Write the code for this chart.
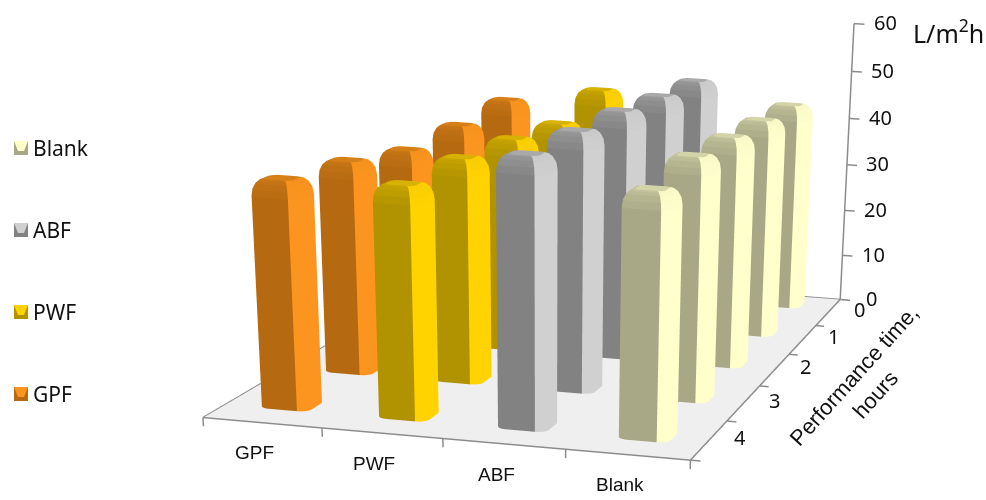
import numpy as np, plotly.graph_objects as go
categories=['GPF','PWF','ABF','Blank']
times=[0,1,2,3,4]
z_ticks=[0,10,20,30,40,50,60]
GPF=[40.6,39.1,38.2,40.4,41.5]
PWF=[44.0,40.8,41.8,42.4,42.1]
ABF=[47.2,47.7,48.6,48.8,48.8]
Blank=[43.4,44.2,45.0,45.7,44.3]
vals={'GPF':GPF,'PWF':PWF,'ABF':ABF,'Blank':Blank}
W,H=1500,2200
CAM=[1.2363,-4.5174,0.7460,0.4366,-0.2311,-1.5305,-0.4845,2.1755,0.7704,1.3011,0.4939]
xr=[-.7,3.7];yr=[-.7,4.7];zr=[-3,63]
p=np.array(CAM)
def barx(ci,t): return ci+(1-t/4)*(.17-.063*ci)
def bary(t): return 4-t+.2-.05*t
colors={'GPF':('#B56A12','#FB951F'),'PWF':('#B19200','#FFD300'),'ABF':('#828282','#D0D0D0'),'Blank':('#A8A886','#FFFFCC')}
def mix(a,b,s):
    A=[int(a[i:i+2],16) for i in (1,3,5)];B=[int(b[i:i+2],16) for i in (1,3,5)]
    return '#%02x%02x%02x'%tuple(int(round(A[k]+(B[k]-A[k])*s)) for k in range(3))
def section(hx,hy,rx,ry,n=6):
    pts=[]
    for cx,cy,a0 in [(hx-rx,-hy+ry,-90),(hx-rx,hy-ry,0),(-hx+rx,hy-ry,90),(-hx+rx,-hy+ry,180)]:
        for k in range(n+1):
            a=np.radians(a0+90*k/n)
            pts.append((cx+rx*np.cos(a),cy+ry*np.sin(a)))
    return pts
HX,HY=.21,.156
SX,SY=120,40
def shade(q0,q1):
    off=((q0[0]+q1[0])/2*SX+(q0[1]+q1[1])/2*SY)
    return float(np.clip(.5+off/7.0,0,1))
def bars(ci,vs,dark,light):
    X=[];Y=[];Z=[];I=[];J=[];K=[];FC=[]
    bh=3.0
    for t,v in zip(times,vs):
        y0=bary(t);x0=barx(ci,t)
        rings=[]
        levels=[(0,0)]+[(v-bh*(1-np.sin(a)),1-np.cos(a)) for a in np.radians([0,25,50,70,90])]
        for z,ins in levels:
            pts=section(HX-.09*ins,HY-.065*ins,.09-.04*ins,.07-.03*ins)
            rings.append(len(X))
            for q in pts:
                X.append(x0+q[0]);Y.append(y0+q[1]);Z.append(z)
        m=len(pts);ns=section(HX,HY,.09,.07)
        for r in range(len(rings)-1):
            lev=r/(len(rings)-2)
            for k in range(m):
                a,b=rings[r]+k,rings[r]+(k+1)%m;c,d=rings[r+1]+k,rings[r+1]+(k+1)%m
                s=shade(ns[k],ns[(k+1)%m])
                tgt=.3*(1-s)+.92*s
                s2=s+(tgt-s)*lev if r>0 else s
                col=mix(dark,light,s2)
                I+=[a,a];J+=[b,d];K+=[d,c];FC+=[col,col]
        top=rings[-1];cidx=len(X);X.append(x0);Y.append(y0);Z.append(v)
        for k in range(m):
            I.append(top+k);J.append(top+(k+1)%m);K.append(cidx);FC.append(mix(dark,light,.5))
    return X,Y,Z,I,J,K,FC
FLAT=dict(ambient=1,diffuse=0,specular=0,fresnel=0,roughness=1)
fig=go.Figure()
fig.add_trace(go.Mesh3d(x=[-.5,3.5,3.5,-.5],y=[-.5,-.5,4.5,4.5],z=[0]*4,i=[0,0],j=[1,2],k=[2,3],color='#efefef',lighting=FLAT,hoverinfo='skip',name='floor'))
for ci,c in enumerate(categories):
    X,Y,Z,I,J,K,FC=bars(ci,vals[c],*colors[c])
    fig.add_trace(go.Mesh3d(x=X,y=Y,z=Z,i=I,j=J,k=K,facecolor=FC,lighting=FLAT,flatshading=True,name=c))
lx=[];ly=[];lz=[]
def seg(a,b):
    lx.extend([a[0],b[0],None]);ly.extend([a[1],b[1],None]);lz.extend([a[2],b[2],None])
e=.03
seg((-.5,-.5,e),(3.5,-.5,e));seg((3.5,-.5,e),(3.5,4.5,e));seg((3.5,4.5,e),(-.5,4.5,e));seg((-.5,4.5,e),(-.5,-.5,e))
seg((3.5,4.5,0),(3.5,4.5,60))
for i in range(5): seg((i-.5,-.5,e),(i-.5,-.5,-1.6))
for i in range(6): seg((3.5,i-.5,e),(3.58,i-.5,e))
for z in z_ticks: seg((3.5,4.5,z),(3.6,4.5,z))
fig.add_trace(go.Scatter3d(x=lx,y=ly,z=lz,mode='lines',line=dict(color='#8c8c8c',width=3),hoverinfo='skip',name='axes'))
A=[]
for i,c in enumerate(categories):
    A.append(dict(x=i,y=-.5,z=0,text=c,xshift=-8,yshift=-30,showarrow=False,font=dict(family='Liberation Sans',size=19,color='#111')))
for t in times:
    A.append(dict(x=3.5,y=4-t,z=0,text=str(t),xshift=31,yshift=3,showarrow=False,font=dict(family='Noto Sans',size=20,color='#111')))
for z in z_ticks:
    A.append(dict(x=3.5,y=4.5,z=z,text=str(z),xshift=31,yshift=1,showarrow=False,font=dict(family='Noto Sans',size=20,color='#111')))
def px(x):return x/W
def py(y):return 1-y/H
C=dict(xanchor='center',yanchor='middle',xref='paper',yref='paper',showarrow=False)
ann=[dict(C,x=px(948),y=py(32),text='L/m<sup>2</sup>h',font=dict(family='Noto Sans',size=25,color='#111')),
 dict(C,x=px(865),y=py(385),text='Performance time,<br>hours',textangle=-48,font=dict(family='Liberation Sans',size=22,color='#111'))]
shapes=[]
leg={'Blank':148,'ABF':230,'PWF':312,'GPF':394}
for c,yc in leg.items():
    d,l=colors[c]
    ann.append(dict(C,x=px(31),y=py(yc),xanchor='left',text=c,font=dict(family='Noto Sans',size=21,color='#111')))
    shapes.append(dict(type='rect',xref='paper',yref='paper',x0=px(14),x1=px(28),y0=py(yc-7),y1=py(yc+7),fillcolor=d,line=dict(width=0)))
    shapes.append(dict(type='path',xref='paper',yref='paper',path='M %f %f L %f %f L %f %f L %f %f Z'%(px(14),py(yc-7),px(28),py(yc-7),px(24),py(yc+3),px(18),py(yc+3)),fillcolor=l,line=dict(width=0)))
ax=dict(visible=False)
fig.update_layout(width=W,height=H,margin=dict(l=0,r=0,t=0,b=0),showlegend=False,paper_bgcolor='white',annotations=ann,shapes=shapes,
 scene=dict(domain=dict(x=[0,1],y=[0,1]),aspectmode='manual',aspectratio=dict(x=p[8]*1.1,y=p[9]*1.08,z=p[10]*1.1),annotations=A,
  xaxis=dict(ax,range=xr),yaxis=dict(ax,range=yr),zaxis=dict(ax,range=zr),
  camera=dict(eye=dict(x=p[0],y=p[1],z=p[2]),center=dict(x=p[3],y=p[4],z=p[5]),up=dict(x=p[6],y=p[7],z=1),projection=dict(type='perspective'))))
fig.write_html('out.html',config=dict(displayModeBar=False),post_script="document.documentElement.style.overflow='hidden';document.body.style.margin='0';document.body.style.overflow='hidden';")
